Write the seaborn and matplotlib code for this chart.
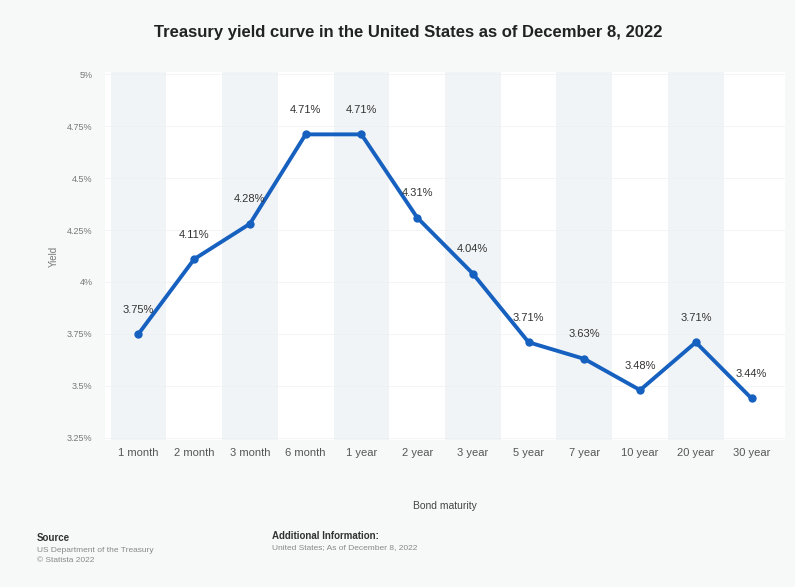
import matplotlib
matplotlib.use("Agg")
import matplotlib.pyplot as plt
import seaborn as sns
import pandas as pd

maturities = ["1 month", "2 month", "3 month", "6 month", "1 year", "2 year",
              "3 year", "5 year", "7 year", "10 year", "20 year", "30 year"]
yields = [3.75, 4.11, 4.28, 4.71, 4.71, 4.31, 4.04, 3.71, 3.63, 3.48, 3.71, 3.44]
y_ticks = [3.25, 3.5, 3.75, 4.0, 4.25, 4.5, 4.75, 5.0]
y_tick_labels = ["3.25%", "3.5%", "3.75%", "4%", "4.25%", "4.5%", "4.75%", "5%"]

df = pd.DataFrame({"maturity": maturities, "yield": yields})
df["pos"] = range(len(df))

sns.set_theme(style="white")
plt.rcParams['font.family'] = ['Liberation Sans', 'DejaVu Sans']

fig = plt.figure(figsize=(7.95, 5.87), dpi=100, facecolor="#f7f9f9")
ax = fig.add_axes([105/795, 1-440/587, 680/795, 368/587])
ax.set_facecolor("white")

for i in range(len(maturities)):
    if i % 2 == 0:
        ax.axvspan(i-0.5, i+0.5, color="#f1f4f6", zorder=0, lw=0)

for t in y_ticks:
    ax.axhline(t, color="#edf0f1", lw=0.5, zorder=1)

sns.lineplot(data=df, x="pos", y="yield", ax=ax, color="#1660c0", lw=2.8,
             marker="o", markersize=6, markeredgewidth=0, zorder=3)

for p, v in zip(df["pos"], df["yield"]):
    ax.annotate(f"{v:.2f}%", (p, v), xytext=(0, 14), textcoords="offset points",
                ha="center", va="bottom", fontsize=8, color="#333333", zorder=4)

ax.set_xlim(-0.6, 11.6)
ax.set_ylim(3.24, 5.01)
ax.set_xticks(range(len(maturities)))
ax.set_xticklabels(maturities, fontsize=8, color="#555555")
ax.set_yticks(y_ticks)
ax.set_yticklabels(y_tick_labels, fontsize=6.5, color="#777777")
ax.tick_params(axis="both", length=0, pad=6)
ax.tick_params(axis="y", pad=9)
for s in ax.spines.values():
    s.set_visible(False)
ax.set_xlabel("Bond maturity", fontsize=7.5, color="#444444", labelpad=31)
ax.set_ylabel("Yield", fontsize=7, color="#777777", labelpad=6)

fig.text(408/795, 1-33/587, "Treasury yield curve in the United States as of December 8, 2022",
         ha="center", va="center", fontsize=12, fontweight="bold", color="#222222")
fig.text(37/795, 1-538/587, "Source", fontsize=7, fontweight="bold", color="#333333",
         ha="left", va="center")
fig.text(37/795, 1-550/587, "US Department of the Treasury", fontsize=6, color="#888888",
         ha="left", va="center")
fig.text(37/795, 1-561/587, "© Statista 2022", fontsize=6, color="#888888",
         ha="left", va="center")
fig.text(272/795, 1-536/587, "Additional Information:", fontsize=7, fontweight="bold",
         color="#333333", ha="left", va="center")
fig.text(272/795, 1-548/587, "United States; As of December 8, 2022", fontsize=6,
         color="#888888", ha="left", va="center")

fig.savefig("out.png", dpi=100, facecolor=fig.get_facecolor())
